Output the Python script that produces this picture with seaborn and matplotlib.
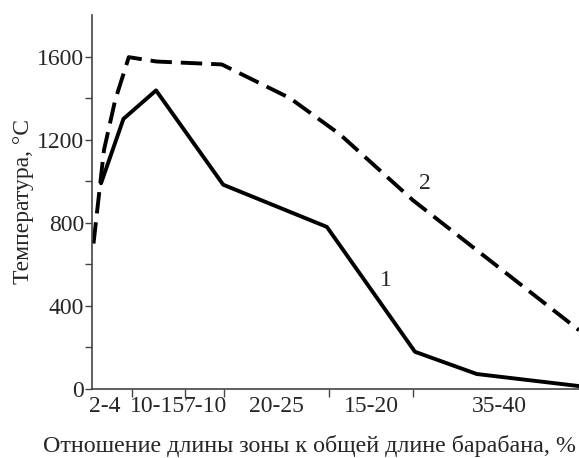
import matplotlib
matplotlib.use("Agg")
import matplotlib.pyplot as plt
import seaborn as sns
import pandas as pd
from matplotlib.ticker import FixedLocator

# x = position along the drum, % of its length
x_curve1 = [1.8, 6.4, 13.1, 26.9, 48.2, 66.3, 79.0, 100.0]
t_curve1 = [990, 1300, 1437, 983, 780, 179, 72, 14]

x_curve2 = [0.25, 2.4, 4.7, 7.5, 13.2, 26.6, 40.6, 50.9, 65.9, 100.0]
t_curve2 = [700, 1150, 1390, 1597, 1576, 1562, 1400, 1225, 908, 283]

zone_edges = [8.1, 19.0, 27.1, 48.7, 65.9]
zone_centers = [2.6, 13.3, 23.2, 37.9, 57.4, 83.7]
zone_labels = ["2-4", "10-15", "7-10", "20-25", "15-20", "35-40"]

df1 = pd.DataFrame({"x": x_curve1, "t": t_curve1})
df2 = pd.DataFrame({"x": x_curve2, "t": t_curve2})

sns.set_style("ticks")
plt.rcParams["font.family"] = ["Liberation Serif", "DejaVu Serif"]

fig = plt.figure(figsize=(5.79, 4.58), dpi=100)
ax = fig.add_axes([0.1594, 0.1507, 0.8406, 0.8166])

sns.lineplot(data=df1, x="x", y="t", ax=ax, color="black", lw=2.8,
             sort=False, estimator=None)
sns.lineplot(data=df2, x="x", y="t", ax=ax, color="black", lw=2.8,
             sort=False, estimator=None, linestyle=(0, (5.5, 2.3)))

ax.set_xlim(0, 100)
ax.set_ylim(0, 1800)

ax.xaxis.set_major_locator(FixedLocator(zone_edges))
ax.xaxis.set_minor_locator(FixedLocator(zone_centers))
ax.set_xticklabels([])
ax.set_xticklabels(zone_labels, minor=True)
ax.tick_params(axis="x", which="minor", length=0, pad=5, labelsize=17)
ax.tick_params(axis="x", which="major", length=6, width=1, color="#444444")

ax.yaxis.set_major_locator(FixedLocator([0, 400, 800, 1200, 1600]))
ax.yaxis.set_minor_locator(FixedLocator([200, 600, 1000, 1400]))
ax.tick_params(axis="y", which="both", length=5, width=1, color="#444444",
               labelsize=17, pad=1)

for s in ["top", "right"]:
    ax.spines[s].set_visible(False)
for s in ["left", "bottom"]:
    ax.spines[s].set_color("#444444")
    ax.spines[s].set_linewidth(1.2)

ax.set_xlabel("Отношение длины зоны к общей длине барабана, %", fontsize=17.3)
ax.xaxis.set_label_coords(0.447, -0.123)
ax.set_ylabel("Температура, °С", fontsize=17, labelpad=2)

ax.text(60.3, 524, "1", fontsize=17, ha="center", va="center")
ax.text(68.3, 990, "2", fontsize=17, ha="center", va="center")

fig.savefig("out.png", dpi=100)
